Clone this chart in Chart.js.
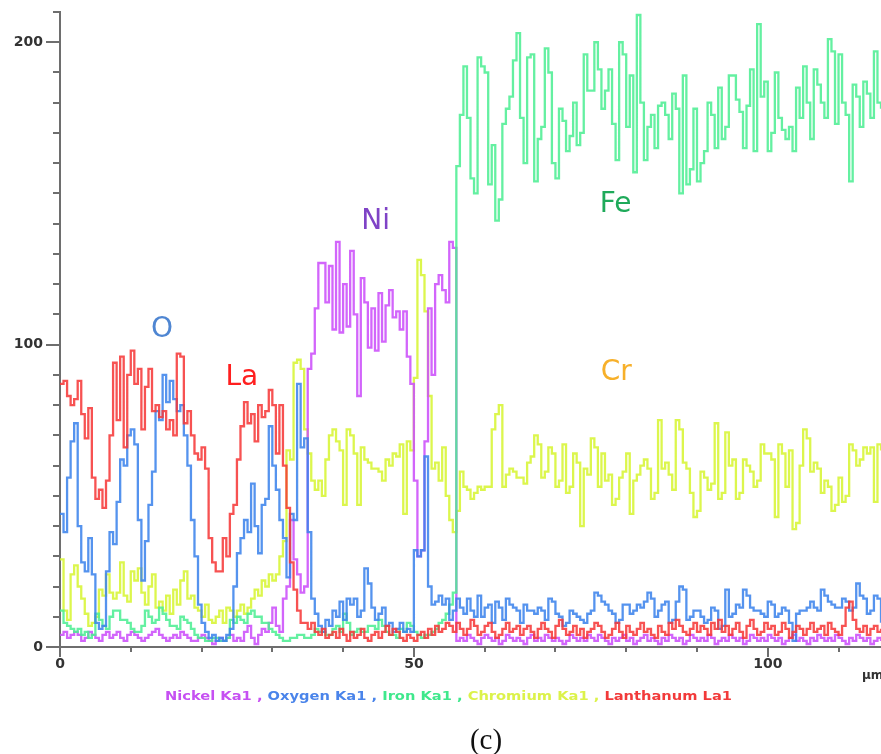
<!DOCTYPE html>
<html><head><meta charset="utf-8">
<script src="https://cdn.jsdelivr.net/npm/chart.js@4.4.1/dist/chart.umd.min.js"></script>
<style>
html,body{margin:0;padding:0;background:#fff;}
#wrap{position:relative;width:881px;height:754px;overflow:hidden;background:#fff;}
canvas{position:absolute;left:0;top:0;}
.lbl{position:absolute;white-space:nowrap;line-height:1;}
#legend{font-family:"DejaVu Sans",sans-serif;font-weight:bold;font-size:13px;transform-origin:0 50%;}
#unit{font-family:"DejaVu Sans",sans-serif;font-weight:bold;font-size:12px;color:#333;}
#cap{font-family:"Liberation Serif","Times New Roman",serif;font-size:29px;color:#111;}
</style></head><body>
<div id="wrap">
<canvas id="c" width="881" height="754"></canvas>
<div id="legend" class="lbl"></div>
<div id="unit" class="lbl">µm</div>
<div id="cap" class="lbl">(c)</div>
</div>
<script>
// scan positions every 0.5 µm (0 .. 116 µm)
const distance = Array.from({length: 233}, (_, i) => i / 2);

const lanthanum = [
 87,88,83,80,82,88,77,69,79,56,
 49,52,46,55,70,94,75,96,66,90,
 98,87,92,72,86,92,78,80,76,78,
 72,75,70,97,96,74,78,70,64,62,
 66,59,36,28,25,25,36,30,44,47,
 62,73,81,74,77,68,80,76,78,85,
 80,64,80,60,46,28,19,12,8,8,
 6,8,5,4,6,3,4,5,3,6,
 4,2,5,3,4,6,3,2,4,5,
 3,5,7,4,6,5,3,2,4,3,
 2,4,5,3,6,4,7,5,6,8,
 7,5,8,6,4,6,9,7,4,5,
 7,8,5,3,4,6,8,5,6,7,
 4,6,7,5,3,6,8,6,5,3,
 7,9,6,4,5,7,4,6,3,5,
 6,8,7,5,3,4,6,8,5,3,
 7,5,4,6,8,5,6,4,3,7,
 5,4,8,6,9,7,5,4,6,8,
 5,7,6,4,8,6,9,5,7,4,
 6,8,5,3,7,9,6,4,5,8,
 6,7,4,5,8,6,3,5,7,6,
 4,6,8,5,6,7,4,8,6,5,
 4,7,13,15,9,6,5,7,4,6,
 7,5,6];

const oxygen = [
 44,38,56,68,74,40,28,25,36,24,
 8,6,7,25,38,34,48,62,60,70,
 72,67,42,22,35,47,58,78,75,90,
 81,88,82,78,80,70,60,42,30,14,
 8,5,3,4,2,3,2,4,6,20,
 31,36,42,38,54,40,31,47,49,73,
 60,52,42,36,23,44,42,87,66,69,
 38,16,11,7,5,9,7,12,10,15,
 9,16,14,16,10,12,26,21,13,9,
 11,13,7,8,5,6,8,5,6,5,
 32,30,32,63,20,14,15,17,14,16,
 9,12,16,13,11,16,12,10,17,10,
 13,14,8,15,13,9,16,14,13,12,
 8,14,12,12,11,13,12,9,16,15,
 11,10,7,8,12,11,10,9,8,11,
 12,18,17,15,14,12,11,8,9,14,
 14,11,12,14,13,15,18,16,10,12,
 14,15,8,9,15,20,19,9,10,12,
 12,10,8,9,13,12,6,7,19,10,
 11,14,13,19,17,13,12,12,11,10,
 15,14,10,11,13,12,8,2,11,12,
 12,13,15,13,12,19,17,15,14,13,
 13,16,15,12,13,21,17,16,11,12,
 17,16,8];

const nickel = [
 4,5,3,4,5,4,2,3,5,4,
 3,2,4,5,3,4,5,3,2,4,
 5,4,3,2,3,4,5,6,4,3,
 2,3,4,3,5,4,3,2,2,3,
 4,3,2,1,2,3,2,3,4,2,
 3,2,5,7,3,1,4,6,5,8,
 13,7,5,16,20,42,29,24,18,20,
 92,97,112,127,127,114,126,105,134,104,
 120,106,131,110,83,122,114,99,112,98,
 117,101,113,118,109,111,105,111,96,87,
 55,30,32,68,112,90,120,123,118,114,
 134,132,2,3,2,4,3,2,1,3,
 4,3,2,3,1,2,4,3,2,3,
 2,1,3,4,2,3,2,4,3,2,
 3,2,1,2,4,3,2,3,2,4,
 3,2,4,3,2,1,3,2,3,4,
 2,3,1,2,3,4,2,3,2,1,
 3,2,4,3,2,3,1,2,4,3,
 2,3,2,4,3,1,2,3,2,4,
 3,2,3,1,2,4,3,2,3,2,
 4,3,2,3,1,2,3,4,2,3,
 2,1,3,2,4,3,2,3,2,4,
 3,2,1,3,2,4,3,2,3,1,
 2,3,2];

const iron = [
 12,8,7,6,5,6,4,5,3,4,
 11,9,7,6,10,12,12,9,9,8,
 6,5,5,7,12,10,8,9,13,11,
 9,7,7,6,10,9,8,6,4,3,
 3,2,2,3,3,2,2,3,9,8,
 10,9,8,11,12,10,10,8,8,6,
 5,4,3,2,2,3,3,4,4,3,
 3,4,6,5,5,4,4,6,7,5,
 11,8,4,5,6,5,5,7,7,6,
 9,7,5,4,4,3,6,5,8,7,
 5,4,3,4,4,5,6,8,9,11,
 14,18,159,176,192,175,155,150,195,192,
 190,153,166,141,148,173,178,182,194,203,
 175,160,195,196,154,168,172,198,190,160,
 155,178,174,164,169,180,166,170,196,184,
 184,200,191,178,184,191,173,161,200,196,
 172,189,157,209,180,161,172,176,165,179,
 180,176,168,183,178,150,189,153,158,178,
 154,160,164,180,176,165,185,168,172,189,
 189,181,177,165,179,191,164,206,182,187,
 164,170,190,175,171,168,172,164,185,175,
 192,180,168,191,186,180,175,201,197,173,
 196,180,176,154,186,182,172,187,183,175,
 197,180,178];

const chromium = [
 29,12,9,24,27,20,16,11,7,8,
 10,19,17,24,18,16,18,28,17,15,
 25,22,26,18,14,20,24,13,15,12,
 17,11,19,14,22,25,16,17,13,12,
 10,14,9,8,10,12,8,13,12,10,
 12,14,11,13,16,19,17,22,20,24,
 22,24,30,35,65,62,94,95,92,72,
 64,55,52,55,50,62,70,72,68,65,
 47,72,70,64,47,66,62,61,59,59,
 58,55,62,60,64,63,67,44,68,65,
 89,128,123,111,83,59,61,55,66,50,
 42,38,45,58,53,52,49,51,53,52,
 53,53,72,77,80,53,57,59,58,56,
 56,54,61,63,70,67,56,58,66,64,
 53,55,67,51,53,64,61,40,59,57,
 69,66,53,64,55,57,47,49,56,58,
 64,44,55,57,60,62,59,49,51,75,
 59,61,57,52,75,72,61,59,51,43,
 45,58,56,52,54,74,49,51,71,60,
 62,49,51,62,60,58,53,55,67,64,
 64,62,43,67,64,53,65,39,41,60,
 72,69,58,61,59,51,55,53,45,47,
 56,48,50,67,65,60,62,66,64,66,
 48,67,65];

const seriesNames = ['Nickel Ka1','Oxygen Ka1','Iron Ka1','Chromium Ka1','Lanthanum La1'];
const xTickLabels = [0, 50, 100];
const yTickLabels = [0, 100, 200];
const elementLabels = ['O','La','Ni','Fe','Cr'];

// ---- styling / placement (not data) ----
const lineColors = {
 'Nickel Ka1':'rgba(204,80,250,0.88)',
 'Oxygen Ka1':'rgba(62,132,236,0.88)',
 'Iron Ka1':'rgba(78,238,148,0.88)',
 'Chromium Ka1':'rgba(216,245,58,0.9)',
 'Lanthanum La1':'rgba(246,58,58,0.88)'
};
const legendColors = {
 'Nickel Ka1':'#c650f2','Oxygen Ka1':'#4a84ea','Iron Ka1':'#3fe88c',
 'Chromium Ka1':'#dcf24a','Lanthanum La1':'#f23a3a'
};
const labelStyle = {
 'O': {x:14.4, y:104.9, color:'#4f86d2'},
 'La':{x:25.7, y:89.1, color:'#ff1f1f'},
 'Ni':{x:44.6, y:140.8, color:'#7f43c6'},
 'Fe':{x:78.5, y:146.4, color:'#1faa5a'},
 'Cr':{x:78.6, y:90.7, color:'#f7b02a'}
};

const valuesByName = {
 'Nickel Ka1': nickel, 'Oxygen Ka1': oxygen, 'Iron Ka1': iron,
 'Chromium Ka1': chromium, 'Lanthanum La1': lanthanum
};
const step = distance[1] - distance[0];
function toPoints(vals){
  const pts = distance.map((d,i)=>({x:d, y:vals[i]}));
  pts.push({x: distance[distance.length-1] + step, y: vals[vals.length-1]});
  return pts;
}
const drawOrder = ['Lanthanum La1','Oxygen Ka1','Iron Ka1','Nickel Ka1','Chromium Ka1'];
const datasets = drawOrder.map(n => ({
  label: n, data: toPoints(valuesByName[n]),
  borderColor: lineColors[n], backgroundColor: lineColors[n],
  borderWidth: 2.3, stepped: true, pointRadius: 0, fill: false, tension: 0,
  borderJoinStyle: 'miter', borderCapStyle: 'butt'
}));

const axisColor = '#6e6e6e';
const tickPlugin = {
  id: 'customTicks',
  afterDraw(chart){
    const g = chart.ctx, xs = chart.scales.x, ys = chart.scales.y;
    g.save();
    g.strokeStyle = axisColor; g.lineWidth = 2;
    xs.ticks.forEach(t => {
      if (t.value % 10 !== 0) return;
      const p = Math.round(xs.getPixelForValue(t.value));
      const L = xTickLabels.includes(t.value) ? 10 : 5;
      g.beginPath(); g.moveTo(p, xs.top); g.lineTo(p, xs.top + L); g.stroke();
    });
    ys.ticks.forEach(t => {
      if (t.value % 10 !== 0) return;
      const p = Math.round(ys.getPixelForValue(t.value));
      const L = yTickLabels.includes(t.value) ? 14 : 7;
      g.beginPath(); g.moveTo(ys.right, p); g.lineTo(ys.right - L, p); g.stroke();
    });
    g.restore();
  }
};
const labelPlugin = {
  id: 'elementLabels',
  afterDatasetsDraw(chart){
    const g = chart.ctx, xs = chart.scales.x, ys = chart.scales.y;
    g.save();
    g.font = '28px "DejaVu Sans", sans-serif';
    g.textAlign = 'center'; g.textBaseline = 'middle';
    elementLabels.forEach(l => {
      const s = labelStyle[l];
      g.fillStyle = s.color;
      g.fillText(l, xs.getPixelForValue(s.x), ys.getPixelForValue(s.y));
    });
    g.restore();
  }
};

const tickFont = {family:'"DejaVu Sans", sans-serif', weight:'bold', size:14};
new Chart(document.getElementById('c').getContext('2d'), {
  type: 'line',
  data: { datasets },
  options: {
    responsive: false, animation: false, devicePixelRatio: 1,
    layout: { padding: { top: 12, right: 0, left: 0, bottom: 0 } },
    plugins: { legend: {display:false}, tooltip: {enabled:false}, title:{display:false} },
    scales: {
      x: {
        type: 'linear', min: 0, max: 116,
        afterFit: s => { s.height = 107; s.paddingLeft = 0; s.paddingRight = 0; },
        grid: { display: false, drawTicks: false },
        border: { display: true, color: axisColor, width: 2 },
        ticks: { stepSize: 10, autoSkip: false, maxRotation: 0, padding: 9, color: '#333',
                 font: tickFont,
                 callback: v => xTickLabels.includes(v) ? String(v) : '' }
      },
      y: {
        type: 'linear', min: 0, max: 210,
        afterFit: s => { s.width = 60; s.paddingTop = 0; s.paddingBottom = 0; },
        grid: { display: false, drawTicks: false },
        border: { display: true, color: axisColor, width: 2 },
        ticks: { stepSize: 10, autoSkip: false, padding: 17, color: '#333',
                 font: tickFont,
                 callback: v => yTickLabels.includes(v) ? String(v) : '' }
      }
    }
  },
  plugins: [tickPlugin, labelPlugin]
});

// legend line below the axis
const leg = document.getElementById('legend');
seriesNames.forEach((n, i) => {
  const sp = document.createElement('span');
  sp.style.color = legendColors[n];
  sp.textContent = n + (i < seriesNames.length - 1 ? ' , ' : '');
  leg.appendChild(sp);
});
const legLeft = 165, legRight = 732, legMidY = 695;
leg.style.left = legLeft + 'px';
const w = leg.getBoundingClientRect().width;
const h = leg.getBoundingClientRect().height;
leg.style.top = (legMidY - h/2) + 'px';
leg.style.transform = 'scaleX(' + ((legRight - legLeft) / w) + ')';

const unit = document.getElementById('unit');
unit.style.left = '862px'; unit.style.top = (675 - unit.getBoundingClientRect().height/2) + 'px';
const cap = document.getElementById('cap');
const cr = cap.getBoundingClientRect();
cap.style.left = (486 - cr.width/2) + 'px'; cap.style.top = (739 - cr.height/2) + 'px';
</script>
</body></html>
